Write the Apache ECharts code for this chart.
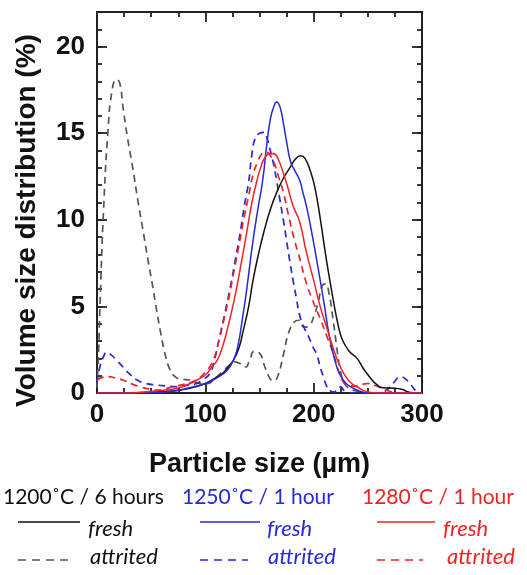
<!DOCTYPE html>
<html><head><meta charset="utf-8">
<script src="https://cdn.jsdelivr.net/npm/echarts@6/dist/echarts.min.js"></script>
<style>html,body{margin:0;padding:0;background:#fff}#c{width:527px;height:575px}</style>
</head><body><div id="c"></div>
<script>
const xTicks = [0, 100, 200, 300];
const yTicks = [0, 5, 10, 15, 20];
const groupTitles = ['1200˚C / 6 hours', '1250˚C / 1 hour', '1280˚C / 1 hour'];
const stateLabels = ['fresh', 'attrited'];
const groupColors = ['#111111', '#2828d8', '#ee2424'];
const dashedColors = ['#555555', '#2828d8', '#ee2424'];

const fresh1200 = [[0,0],[25,0],[50,0.05],[65,0.1],[77,0.17],[90,0.35],[100,0.55],[110,0.9],[117,1.2],[126,1.9],[131,2.6],[135,3.6],[140,5.0],[144,6.5],[149,8.0],[154,9.3],[160,10.6],[166,11.6],[172,12.4],[178,13.0],[183,13.5],[188,13.7],[192,13.55],[197,12.8],[201,11.9],[206,10.1],[212,7.6],[218,5.4],[223,3.8],[227,3.0],[233,2.4],[240,2.0],[246,1.4],[252,0.9],[258,0.5],[264,0.3],[275,0.28],[282,0.2],[288,0.05],[300,0]];
const attrited1200 = [[0,0.3],[1.5,2.5],[3,5.5],[6,10.5],[10,15],[14,17.5],[18,18.1],[21,17.9],[24,16.5],[28,14.8],[33,13.0],[38,11.0],[43,9.2],[47,7.7],[51,6.3],[55,4.8],[59,3.4],[63,2.2],[67,1.4],[72,0.95],[78,0.8],[86,0.75],[95,0.55],[102,0.55],[110,0.9],[117,1.3],[122,1.6],[127,1.8],[132,1.7],[137,1.5],[141,1.9],[145,2.4],[150,2.3],[155,1.5],[160,0.8],[163,0.7],[167,1.0],[172,2.2],[177,3.5],[182,4.1],[186,4.2],[191,3.8],[196,3.9],[200,4.4],[204,5.2],[208,6.2],[211,6.3],[214,5.8],[218,4.2],[221,2.8],[224,1.5],[228,0.6],[232,0.3],[240,0.1],[250,0],[300,0]];
const fresh1250 = [[0,0],[40,0],[60,0.05],[70,0.1],[85,0.3],[100,0.55],[110,0.85],[120,1.3],[126,1.9],[130,2.7],[134,4.2],[138,5.9],[144,8.8],[149,10.8],[153,12.3],[157,14.5],[160,15.8],[163,16.5],[166,16.8],[169,16.5],[172,15.6],[175,14.5],[179,13.3],[183,12.8],[187,12.3],[190,11.6],[194,10.6],[199,9.0],[203,7.6],[209,5.4],[215,3.1],[220,1.8],[224,1.1],[230,0.55],[240,0.17],[250,0.02],[300,0]];
const attrited1250 = [[0,0.6],[3,1.6],[6,2.1],[9,2.35],[13,2.2],[18,1.9],[24,1.5],[30,1.1],[37,0.75],[45,0.55],[55,0.46],[65,0.4],[74,0.36],[84,0.45],[92,0.55],[98,0.8],[104,1.1],[108,1.8],[113,3.2],[118,4.6],[123,6.1],[128,7.8],[132,9.2],[136,10.8],[140,12.2],[143,13.8],[146,14.7],[150,15.0],[154,15.05],[157,14.7],[160,14.0],[163,13.2],[166,12.2],[169,11.1],[172,10.0],[175,8.8],[178,7.6],[181,6.5],[184,5.5],[187,4.5],[191,3.8],[195,3.3],[199,2.7],[203,2.2],[206,1.5],[209,0.94],[212,0.4],[216,0.1],[219,0.05],[222,0.3],[225,0.35],[229,0.1],[240,0],[260,0],[268,0.2],[274,0.6],[280,0.94],[285,0.8],[290,0.45],[296,0.06],[300,0]];
const fresh1280 = [[0,0],[30,0],[49,0.08],[60,0.15],[74,0.27],[86,0.55],[95,0.85],[101,1.1],[106,1.5],[111,1.9],[116,2.7],[120,3.6],[125,4.9],[129,6.1],[134,7.8],[138,9.2],[143,11.0],[147,12.1],[151,13.0],[155,13.6],[160,13.85],[164,13.8],[168,13.4],[172,12.7],[176,11.9],[181,10.8],[187,9.9],[193,8.2],[200,6.5],[206,5.0],[212,3.8],[218,2.6],[224,1.6],[230,0.9],[236,0.5],[240,0.36],[249,0.08],[260,0],[300,0]];
const attrited1280 = [[0,0.75],[5,0.9],[10,0.94],[18,0.85],[25,0.72],[33,0.5],[40,0.36],[50,0.2],[56,0.17],[63,0.25],[70,0.36],[80,0.5],[88,0.65],[95,0.9],[100,1.2],[104,1.5],[108,2.0],[112,2.9],[117,4.2],[122,5.6],[126,6.9],[131,8.5],[135,9.9],[140,11.4],[144,12.6],[148,13.3],[152,13.8],[156,13.9],[160,13.7],[164,13.2],[168,12.4],[172,11.6],[177,10.2],[182,8.9],[187,7.8],[193,6.4],[200,5.2],[206,4.3],[212,3.3],[218,2.3],[224,1.1],[230,0.5],[238,0.4],[245,0.5],[250,0.55],[256,0.45],[262,0.3],[270,0.1],[280,0],[300,0]];

const chart = echarts.init(document.getElementById('c'), null, {renderer: 'canvas'});
const axisColor = '#222';
const labelFont = {fontSize: 26, fontWeight: 'bold', color: '#111', fontFamily: 'Liberation Sans'};

function xAx(pos, labels) {
  return {
    type: 'value', position: pos, min: 0, max: 300, interval: 100,
    axisLine: {show: true, onZero: false, lineStyle: {color: axisColor, width: 2}},
    axisTick: {show: true, inside: true, length: 10, lineStyle: {color: axisColor, width: 1.8}},
    minorTick: {show: true, splitNumber: 4, length: 5, lineStyle: {color: axisColor, width: 1.8}},
    splitLine: {show: false}, minorSplitLine: {show: false},
    axisLabel: labels ? Object.assign({margin: 9, formatter: v => xTicks.includes(v) ? String(v) : ''}, labelFont) : {show: false}
  };
}
function yAx(pos, step, len, line, labels) {
  return {
    type: 'value', position: pos, min: 0, max: 22, interval: step,
    axisLine: {show: line, onZero: false, lineStyle: {color: axisColor, width: 2}},
    axisTick: {show: true, inside: true, length: len, lineStyle: {color: axisColor, width: 1.8}},
    splitLine: {show: false},
    axisLabel: labels ? Object.assign({margin: 12, formatter: v => yTicks.includes(v) ? String(v) : ''}, labelFont) : {show: false}
  };
}

const xAxes = [xAx('bottom', true), xAx('top', false)];
xAxes[0].name = 'Particle size (µm)';
xAxes[0].nameLocation = 'middle';
xAxes[0].nameGap = 58;
xAxes[0].nameTextStyle = {fontSize: 27, fontWeight: 'bold', color: '#111', fontFamily: 'Liberation Sans'};

const yAxes = [yAx('left', 1, 5, true, true), yAx('left', 5, 10, false, false), yAx('right', 1, 5, true, false), yAx('right', 5, 10, false, false)];
yAxes[0].name = 'Volume size distribution (%)';
yAxes[0].nameLocation = 'middle';
yAxes[0].nameGap = 56;
yAxes[0].nameTextStyle = {fontSize: 28, fontWeight: 'bold', color: '#111', fontFamily: 'Liberation Sans', padding: [0, 36, 0, 0]};

function line(name, data, color, dashed) {
  return {
    name, type: 'line', data, xAxisIndex: 0, yAxisIndex: 0,
    showSymbol: false, symbol: 'none', smooth: 0.5,
    lineStyle: {color, width: dashed ? 1.7 : 1.5, type: dashed ? [7, 5] : 'solid'},
    silent: true
  };
}

const series = [
  line('1200 attrited', attrited1200, dashedColors[0], true),
  line('1250 attrited', attrited1250, dashedColors[1], true),
  line('1280 attrited', attrited1280, dashedColors[2], true),
  line('1200 fresh', fresh1200, groupColors[0], false),
  line('1250 fresh', fresh1250, groupColors[1], false),
  line('1280 fresh', fresh1280, groupColors[2], false)
];

// legend drawn as text block
const cols = [
  {tx: 3, lx: 18, fx: 88, dlx2: 68, sx2: 80, ax: 90},
  {tx: 182, lx: 200, fx: 267, dlx2: 248, sx2: 260, ax: 268},
  {tx: 362, lx: 377, fx: 443, dlx2: 423, sx2: 435, ax: 447}
];
const legendFont = 'Lato';
const graphic = [];
cols.forEach((c, i) => {
  graphic.push({type: 'text', x: c.tx, y: 497, style: {text: groupTitles[i], fontSize: 21, fontFamily: legendFont, fill: groupColors[i], verticalAlign: 'middle'}});
  graphic.push({type: 'line', shape: {x1: c.lx, y1: 522, x2: c.sx2, y2: 522}, style: {stroke: groupColors[i], lineWidth: 1.5}});
  graphic.push({type: 'text', x: c.fx, y: 529, style: {text: stateLabels[0], fontSize: 22, fontStyle: 'italic', fontFamily: legendFont, fill: groupColors[i], verticalAlign: 'middle'}});
  graphic.push({type: 'line', shape: {x1: c.lx, y1: 560, x2: c.dlx2, y2: 560}, style: {stroke: dashedColors[i], lineWidth: 1.5, lineDash: [8, 6]}});
  graphic.push({type: 'text', x: c.ax, y: 557, style: {text: stateLabels[1], fontSize: 22, fontStyle: 'italic', fontFamily: legendFont, fill: i === 0 ? '#111' : groupColors[i], verticalAlign: 'middle'}});
});

chart.setOption({
  animation: false,
  backgroundColor: '#fff',
  grid: {left: 97, right: 105, top: 12, bottom: 182, containLabel: false, outerBoundsMode: 'none'},
  xAxis: xAxes,
  yAxis: yAxes,
  series,
  graphic
});
</script>
</body></html>
